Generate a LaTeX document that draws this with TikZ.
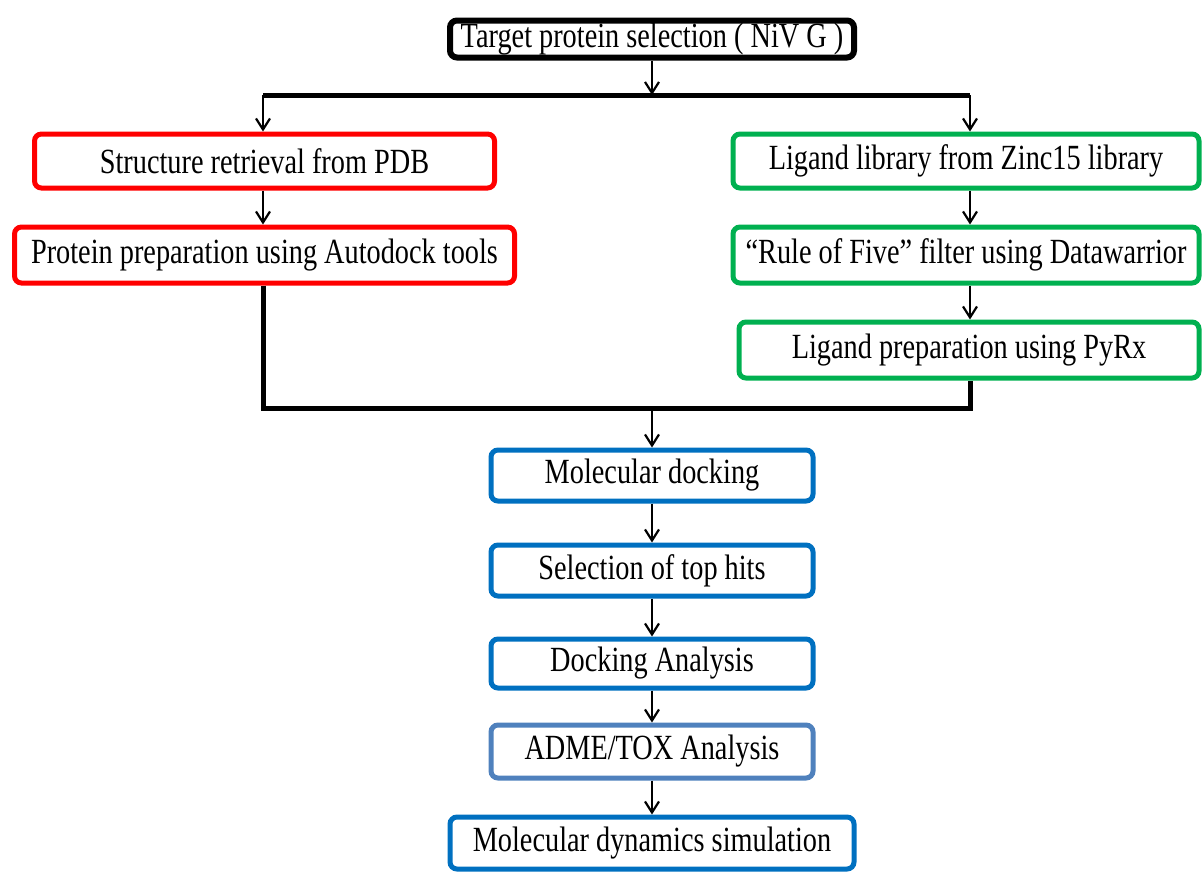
\documentclass[tikz,border=0pt]{standalone}
\usepackage{fontspec}
\setmainfont{Liberation Serif}
\usetikzlibrary{arrows.meta, positioning, calc}

\definecolor{boxred}{RGB}{255,0,0}
\definecolor{boxgreen}{RGB}{0,176,80}
\definecolor{boxblue}{RGB}{0,112,192}
\definecolor{boxsteel}{RGB}{79,129,189}

% text of the boxes is set a little taller than wide
\newcommand{\tallText}[1]{\raisebox{-2.5pt}{\scalebox{1}[1.25]{#1}}}

\begin{document}
\begin{tikzpicture}[
    x=1pt, y=-1pt,
    stepbox/.style={draw, rounded corners=7pt, line width=5pt, align=center, inner sep=0pt, font=\fontsize{28.3}{32}\selectfont},
    arrow/.style={-{Straight Barb[length=11pt, width=14pt, line width=2.2pt]}, line width=2.2pt},
    bus/.style={line width=5pt}
]
\useasboundingbox (0,0) rectangle (1202,871);

% Top box
\node[stepbox, line width=6pt, minimum width=404pt, minimum height=37pt] (target) at (652,39) {\tallText{Target protein selection ( NiV G )}};

% Protein branch
\node[stepbox, draw=boxred, minimum width=460pt, minimum height=54pt] (struct) at (264.5,161) {\tallText{Structure retrieval from PDB}};
\node[stepbox, draw=boxred, minimum width=500pt, minimum height=56pt] (protprep) at (264.5,255) {\tallText{Protein preparation using Autodock tools}};

% Ligand branch
\node[stepbox, draw=boxgreen, minimum width=466pt, minimum height=54pt] (liglib) at (966,161) {\tallText{Ligand library from Zinc15 library}};
\node[stepbox, draw=boxgreen, minimum width=466pt, minimum height=56pt] (filter) at (966,255) {\tallText{“Rule of Five” filter using Datawarrior}};
\node[stepbox, draw=boxgreen, minimum width=460pt, minimum height=56pt] (ligprep) at (969,350) {\tallText{Ligand preparation using PyRx}};

% Docking pipeline
\node[stepbox, draw=boxblue, minimum width=322pt, minimum height=51pt] (docking) at (652,475.5) {\tallText{Molecular docking}};
\node[stepbox, draw=boxblue, minimum width=322pt, minimum height=51pt] (tophits) at (652,570.5) {\tallText{Selection of top hits}};
\node[stepbox, draw=boxblue, minimum width=322pt, minimum height=49pt] (analysis) at (652,663.5) {\tallText{Docking Analysis}};
\node[stepbox, draw=boxsteel, minimum width=322pt, minimum height=53pt] (adme) at (652,751.5) {\tallText{ADME/TOX Analysis}};
\node[stepbox, draw=boxblue, minimum width=404pt, minimum height=52pt] (mdsim) at (652,843) {\tallText{Molecular dynamics simulation}};

% Split bus
\coordinate (busL) at (263,95);
\coordinate (busR) at (970,95);
\coordinate (busM) at (652,95);
\draw[arrow] (target) -- (busM);
\draw[bus] (busL) -- (busR);
\draw[arrow] (busL) -- (busL |- struct.north);
\draw[arrow] (busR) -- (busR |- liglib.north);

% Branch arrows
\draw[arrow] (struct.south -| busL) -- (protprep.north -| busL);
\draw[arrow] (liglib.south -| busR) -- (filter.north -| busR);
\draw[arrow] (filter.south -| busR) -- (ligprep.north -| busR);

% Merge bus
\coordinate (merge) at (652,408);
\draw[bus] (protprep.south -| busL) |- (merge) -| (ligprep.south -| busR);
\draw[arrow] (merge) -- (docking);

% Pipeline arrows
\draw[arrow] (docking) -- (tophits);
\draw[arrow] (tophits) -- (analysis);
\draw[arrow] (analysis) -- (adme);
\draw[arrow] (adme) -- (mdsim);

\end{tikzpicture}
\end{document}
